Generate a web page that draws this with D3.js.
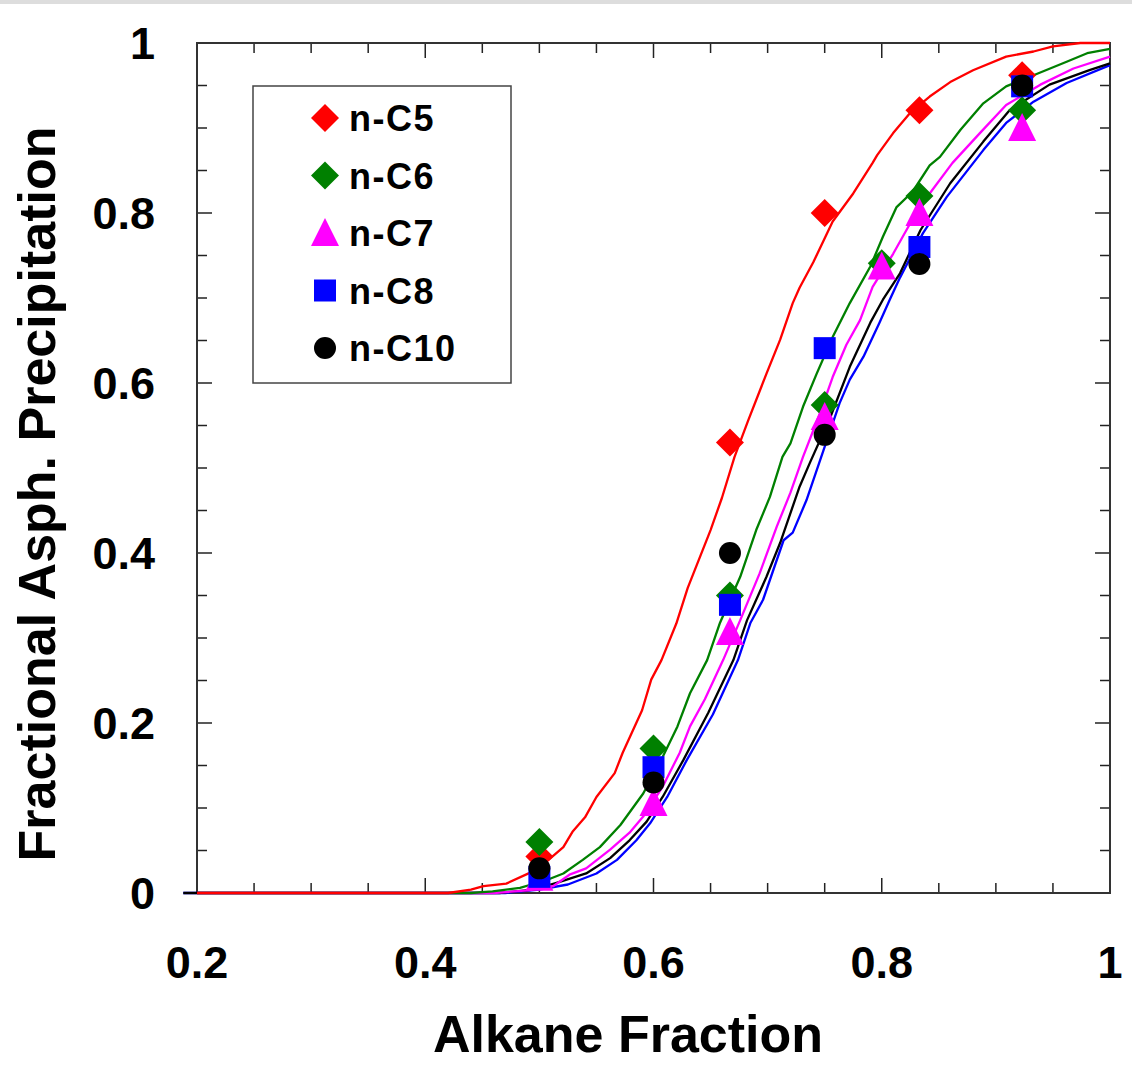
<!DOCTYPE html>
<html>
<head>
<meta charset="utf-8">
<script src="https://cdn.jsdelivr.net/npm/d3@7"></script>
<style>
  body { margin: 0; background: #fff; }
  text { font-family: "Liberation Sans", Arial, sans-serif; font-weight: bold; fill: #000; }
</style>
</head>
<body>
<svg id="chart" width="1132" height="1078"></svg>
<script>
// series
const seriesNames = ["n-C5", "n-C6", "n-C7", "n-C8", "n-C10"];
const seriesColors = ["#ff0000", "#008000", "#ff00ff", "#0000ff", "#000000"];
const seriesShapes = ["diamond", "diamond", "triangle", "square", "circle"];

// measured points [alkane fraction, fractional precipitation]
const c5Points = [[0.5, 0.043], [0.667, 0.53], [0.75, 0.80], [0.833, 0.921], [0.923, 0.962]];
const c6Points = [[0.5, 0.06], [0.6, 0.17], [0.667, 0.35], [0.75, 0.574], [0.8, 0.741], [0.833, 0.82], [0.923, 0.921]];
const c7Points = [[0.5, 0.018], [0.6, 0.106], [0.667, 0.307], [0.75, 0.56], [0.8, 0.737], [0.833, 0.80], [0.923, 0.90]];
const c8Points = [[0.5, 0.019], [0.6, 0.148], [0.667, 0.339], [0.75, 0.641], [0.833, 0.76], [0.923, 0.949]];
const c10Points = [[0.5, 0.029], [0.6, 0.13], [0.667, 0.40], [0.75, 0.539], [0.833, 0.74], [0.923, 0.95]];

// model curves
const c5Curve = [[0.2, 0], [0.42, 0], [0.44, 0.004], [0.451, 0.008], [0.471, 0.011], [0.492, 0.024], [0.508, 0.039],
  [0.521, 0.054], [0.529, 0.072], [0.540, 0.089], [0.550, 0.113], [0.566, 0.141], [0.573, 0.165], [0.590, 0.215],
  [0.598, 0.251], [0.607, 0.274], [0.620, 0.317], [0.630, 0.359], [0.650, 0.427], [0.660, 0.465], [0.671, 0.513],
  [0.683, 0.556], [0.699, 0.611], [0.711, 0.651], [0.722, 0.694], [0.728, 0.712], [0.740, 0.742], [0.757, 0.790],
  [0.775, 0.823], [0.792, 0.859], [0.796, 0.868], [0.810, 0.894], [0.825, 0.918], [0.842, 0.937], [0.860, 0.954],
  [0.880, 0.968], [0.909, 0.984], [0.933, 0.990], [0.950, 0.996], [0.974, 1.0], [1.0, 1.0]];
const c6Curve = [[0.2, 0], [0.44, 0], [0.459, 0.002], [0.483, 0.006], [0.506, 0.015], [0.521, 0.023], [0.538, 0.039],
  [0.553, 0.054], [0.571, 0.080], [0.591, 0.117], [0.608, 0.160], [0.621, 0.196], [0.632, 0.235], [0.647, 0.274],
  [0.658, 0.317], [0.676, 0.372], [0.690, 0.427], [0.702, 0.466], [0.713, 0.513], [0.720, 0.529], [0.731, 0.572],
  [0.743, 0.611], [0.757, 0.654], [0.772, 0.694], [0.790, 0.737], [0.801, 0.772], [0.813, 0.807], [0.827, 0.825],
  [0.842, 0.856], [0.851, 0.866], [0.869, 0.898], [0.889, 0.929], [0.909, 0.949], [0.933, 0.962], [0.962, 0.978],
  [0.980, 0.988], [1.0, 0.993]];
const c7Curve = [[0.2, 0], [0.46, 0], [0.49, 0.003], [0.512, 0.008], [0.527, 0.022], [0.541, 0.029], [0.562, 0.051],
  [0.579, 0.071], [0.591, 0.090], [0.608, 0.125], [0.623, 0.165], [0.632, 0.196], [0.645, 0.228], [0.661, 0.274],
  [0.676, 0.321], [0.693, 0.376], [0.708, 0.431], [0.720, 0.471], [0.731, 0.513], [0.746, 0.565], [0.757, 0.607],
  [0.769, 0.645], [0.781, 0.674], [0.792, 0.713], [0.810, 0.752], [0.825, 0.788], [0.842, 0.823], [0.862, 0.859],
  [0.886, 0.894], [0.909, 0.927], [0.939, 0.951], [0.968, 0.970], [1.0, 0.984]];
const c8Curve = [[0.188, 0], [0.47, 0], [0.50, 0.004], [0.525, 0.010], [0.550, 0.023], [0.568, 0.039], [0.585, 0.062],
  [0.597, 0.082], [0.612, 0.113], [0.629, 0.156], [0.652, 0.210], [0.674, 0.274], [0.685, 0.318], [0.696, 0.345],
  [0.705, 0.380], [0.714, 0.415], [0.722, 0.424], [0.734, 0.462], [0.749, 0.521], [0.763, 0.576], [0.772, 0.604],
  [0.784, 0.631], [0.798, 0.671], [0.807, 0.698], [0.816, 0.724], [0.836, 0.776], [0.857, 0.819], [0.889, 0.874],
  [0.909, 0.906], [0.933, 0.931], [0.962, 0.953], [1.0, 0.974]];
const c10Curve = [[0.188, 0], [0.465, 0], [0.495, 0.004], [0.515, 0.012], [0.541, 0.023], [0.562, 0.041], [0.579, 0.062],
  [0.594, 0.084], [0.608, 0.113], [0.626, 0.156], [0.648, 0.212], [0.670, 0.274], [0.682, 0.321], [0.699, 0.372],
  [0.711, 0.412], [0.728, 0.478], [0.737, 0.506], [0.755, 0.560], [0.772, 0.619], [0.790, 0.671], [0.801, 0.698],
  [0.816, 0.729], [0.834, 0.780], [0.860, 0.835], [0.889, 0.884], [0.912, 0.921], [0.947, 0.951], [0.982, 0.968],
  [1.0, 0.976]];

const xTickLabels = [0.2, 0.4, 0.6, 0.8, 1];
const yTickLabels = [0, 0.2, 0.4, 0.6, 0.8, 1];

const allPoints = [c5Points, c6Points, c7Points, c8Points, c10Points];
const allCurves = [c5Curve, c6Curve, c7Curve, c8Curve, c10Curve];

const svg = d3.select("#chart");
const plotLeft = 197, plotRight = 1110, plotTop = 43, plotBottom = 893;

const x = d3.scaleLinear().domain([0.2, 1]).range([plotLeft, plotRight]);
const y = d3.scaleLinear().domain([0, 1]).range([plotBottom, plotTop]);

// thin grey band at top of page
svg.append("rect").attr("x", 0).attr("y", 0).attr("width", 1132).attr("height", 4).attr("fill", "#dddddd");

// marker shapes
function shapePath(shape) {
  if (shape === "diamond") return "M0,-14L14,0L0,14L-14,0Z";
  if (shape === "triangle") return "M0,-15L14,13L-14,13Z";
  if (shape === "square") return "M-11,-11H11V11H-11Z";
  return d3.symbol(d3.symbolCircle, Math.PI * 11 * 11)();
}

// ticks, every 0.05, longer at labelled values
const xTickVals = d3.range(0, 17).map(i => +(0.2 + i * 0.05).toFixed(2));
const yTickVals = d3.range(0, 21).map(i => +(i * 0.05).toFixed(2));
const isMajor = v => Math.abs(v * 5 - Math.round(v * 5)) < 1e-6;

const ticks = svg.append("g").attr("stroke", "#222").attr("stroke-width", 1.5);
xTickVals.forEach(v => {
  const len = isMajor(v) ? 15 : 10;
  ticks.append("line").attr("x1", x(v)).attr("x2", x(v)).attr("y1", plotBottom).attr("y2", plotBottom - len);
  ticks.append("line").attr("x1", x(v)).attr("x2", x(v)).attr("y1", plotTop).attr("y2", plotTop + len);
});
yTickVals.forEach(v => {
  const len = isMajor(v) ? 15 : 10;
  ticks.append("line").attr("x1", plotLeft).attr("x2", plotLeft + len).attr("y1", y(v)).attr("y2", y(v));
  ticks.append("line").attr("x1", plotRight).attr("x2", plotRight - len).attr("y1", y(v)).attr("y2", y(v));
});

// frame
svg.append("rect")
  .attr("x", plotLeft).attr("y", plotTop).attr("width", plotRight - plotLeft).attr("height", plotBottom - plotTop)
  .attr("fill", "none").attr("stroke", "#333").attr("stroke-width", 2);

// tick labels
svg.append("g").selectAll("text").data(xTickLabels).join("text")
  .attr("x", d => x(d)).attr("y", 978)
  .attr("text-anchor", "middle").attr("font-size", 45)
  .text(d => d);
svg.append("g").selectAll("text").data(yTickLabels).join("text")
  .attr("x", 155).attr("y", d => y(d) + 16)
  .attr("text-anchor", "end").attr("font-size", 45)
  .text(d => d);

// axis titles
svg.append("text").attr("x", 628).attr("y", 1052).attr("text-anchor", "middle")
  .attr("font-size", 52).text("Alkane Fraction");
svg.append("text").attr("transform", "translate(55,494) rotate(-90)").attr("text-anchor", "middle")
  .attr("font-size", 52).text("Fractional Asph. Precipitation");

// curves (red drawn last)
const line = d3.line().x(d => x(d[0])).y(d => y(d[1]));
const lineOrder = [3, 4, 2, 1, 0];
svg.append("g").selectAll("path").data(lineOrder).join("path")
  .attr("d", i => line(allCurves[i]))
  .attr("fill", "none")
  .attr("stroke", i => seriesColors[i])
  .attr("stroke-width", 2.3)
  .attr("stroke-linejoin", "round");

// data markers
allPoints.forEach((pts, i) => {
  svg.append("g").selectAll("path").data(pts).join("path")
    .attr("transform", d => `translate(${x(d[0])},${y(d[1])})`)
    .attr("d", shapePath(seriesShapes[i]))
    .attr("fill", seriesColors[i]);
});

// legend
const legend = svg.append("g");
legend.append("rect").attr("x", 253).attr("y", 86).attr("width", 258).attr("height", 297)
  .attr("fill", "#fff").attr("stroke", "#444").attr("stroke-width", 1.5);
const rowY = d3.scalePoint().domain(seriesNames).range([118, 348]);
seriesNames.forEach((name, i) => {
  legend.append("path")
    .attr("transform", `translate(325,${rowY(name)})`)
    .attr("d", shapePath(seriesShapes[i]))
    .attr("fill", seriesColors[i]);
  legend.append("text")
    .attr("x", 349).attr("y", rowY(name) + 13)
    .attr("font-size", 36).attr("letter-spacing", 1.5)
    .text(name);
});
</script>
</body>
</html>
